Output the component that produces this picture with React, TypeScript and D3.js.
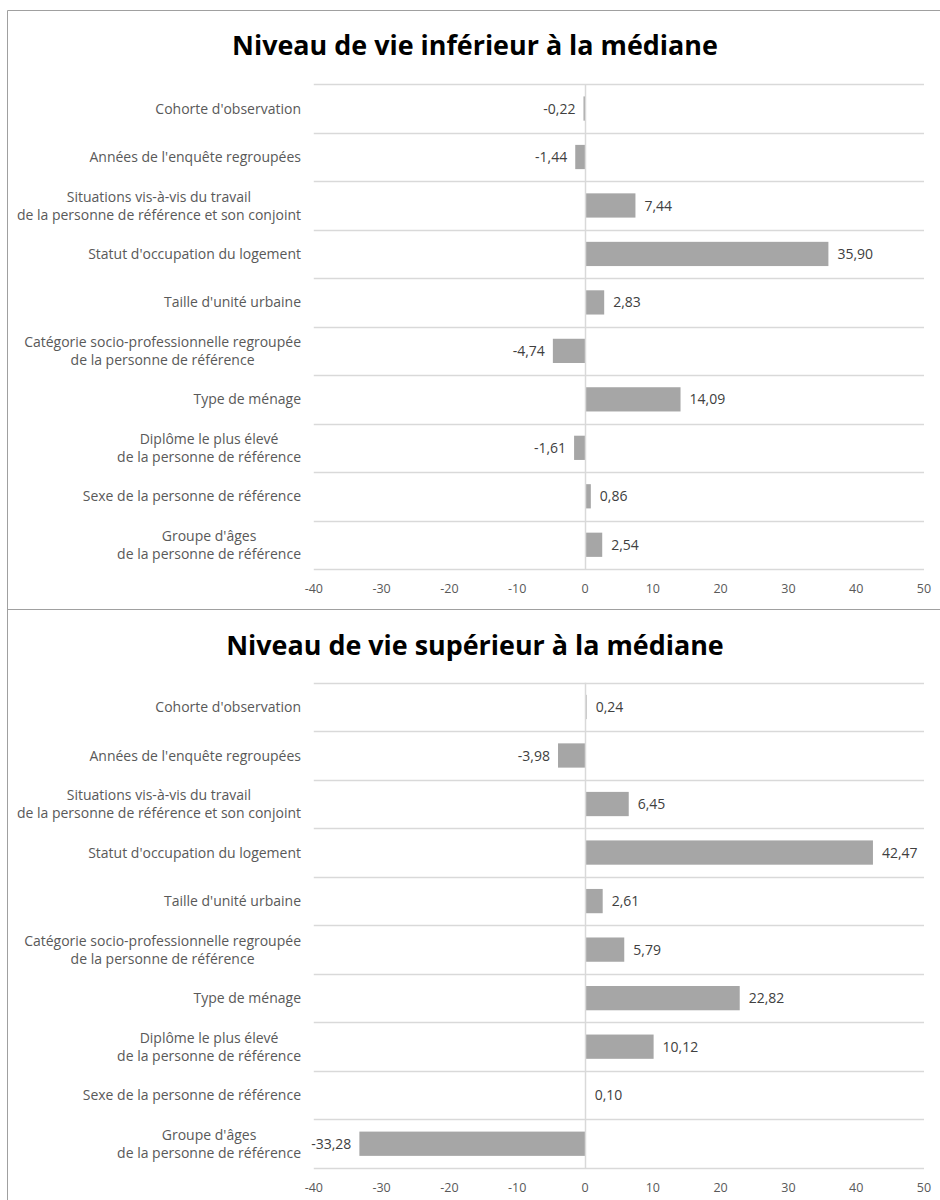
import { useEffect, useRef } from 'react'
import * as d3 from 'd3'

const CATEGORIES = [
  ["Cohorte d'observation"],
  ["Années de l'enquête regroupées"],
  ['Situations vis-à-vis du travail', 'de la personne de référence et son conjoint'],
  ["Statut d'occupation du logement"],
  ["Taille d'unité urbaine"],
  ['Catégorie socio-professionnelle regroupée', 'de la personne de référence'],
  ['Type de ménage'],
  ['Diplôme le plus élevé', 'de la personne de référence'],
  ['Sexe de la personne de référence'],
  ["Groupe d'âges", 'de la personne de référence'],
]

const BELOW_MEDIAN = [-0.22, -1.44, 7.44, 35.9, 2.83, -4.74, 14.09, -1.61, 0.86, 2.54]
const ABOVE_MEDIAN = [0.24, -3.98, 6.45, 42.47, 2.61, 5.79, 22.82, 10.12, 0.1, -33.28]

const TITLES = ['Niveau de vie inférieur à la médiane', 'Niveau de vie supérieur à la médiane']
const X_TICKS = [-40, -30, -20, -10, 0, 10, 20, 30, 40, 50]

const FONT = "'Open Sans', Lato, sans-serif"
const BAR = '#a6a6a6'
const GRID = '#d9d9d9'
const MUTED = '#595959'

const fmt = (v: number) => v.toFixed(2).replace('.', ',')

export default function App() {
  const svgRef = useRef<SVGSVGElement | null>(null)

  useEffect(() => {
    const svg = svgRef.current
    if (!svg) return
    const root = d3.select(svg)
    root.selectAll('*').remove()

    // outer frame + separator between the two panels
    root.append('path')
      .attr('d', 'M7.5,1200 V10.5 H940')
      .attr('fill', 'none')
      .attr('stroke', '#a0a0a0')
    root.append('line')
      .attr('x1', 7.5).attr('x2', 940).attr('y1', 609.5).attr('y2', 609.5)
      .attr('stroke', '#a0a0a0')

    const x = d3.scaleLinear().domain([-40, 50]).range([313.8, 924])

    const panels = [
      { title: TITLES[0], values: BELOW_MEDIAN, titleY: 55, top: 84.3, bottom: 569 },
      { title: TITLES[1], values: ABOVE_MEDIAN, titleY: 655, top: 682.7, bottom: 1168 },
    ]

    panels.forEach((p) => {
      const g = root.append('g')
      const y = d3
        .scaleBand<number>()
        .domain(d3.range(CATEGORIES.length))
        .range([p.top, p.bottom])
        .paddingInner(0.5)
        .paddingOuter(0.25)
      const step = y.step()

      g.append('text')
        .attr('x', 475)
        .attr('y', p.titleY)
        .attr('text-anchor', 'middle')
        .attr('font-family', FONT)
        .attr('font-size', 26.9)
        .attr('font-weight', 700)
        .attr('fill', '#000')
        .text(p.title)

      // category separators
      g.selectAll('line.grid')
        .data(d3.range(CATEGORIES.length + 1))
        .join('line')
        .attr('class', 'grid')
        .attr('x1', x(-40))
        .attr('x2', x(50))
        .attr('y1', (i) => Math.round(p.top + i * step) + 0.5)
        .attr('y2', (i) => Math.round(p.top + i * step) + 0.5)
        .attr('stroke', GRID)
        .attr('stroke-width', 1.5)

      g.selectAll('rect')
        .data(p.values)
        .join('rect')
        .attr('x', (d) => x(Math.min(0, d)))
        .attr('y', (_, i) => y(i)!)
        .attr('width', (d) => Math.abs(x(d) - x(0)))
        .attr('height', y.bandwidth())
        .attr('fill', BAR)

      g.append('line')
        .attr('x1', x(0) + 0.5)
        .attr('x2', x(0) + 0.5)
        .attr('y1', p.top)
        .attr('y2', p.bottom)
        .attr('stroke', GRID)
        .attr('stroke-width', 1.5)

      g.selectAll('text.val')
        .data(p.values)
        .join('text')
        .attr('class', 'val')
        .attr('x', (d) => (d < 0 ? x(d) - 8 : x(d) + 9))
        .attr('y', (_, i) => y(i)! + y.bandwidth() / 2)
        .attr('dy', '0.36em')
        .attr('text-anchor', (d) => (d < 0 ? 'end' : 'start'))
        .attr('font-family', FONT)
        .attr('font-size', 14)
        .attr('fill', '#404040')
        .text((d) => fmt(d))

      g.selectAll('text.tick')
        .data(X_TICKS)
        .join('text')
        .attr('class', 'tick')
        .attr('x', (d) => x(d))
        .attr('y', p.bottom + 19)
        .attr('dy', '0.36em')
        .attr('text-anchor', 'middle')
        .attr('font-family', FONT)
        .attr('font-size', 12.5)
        .attr('fill', MUTED)
        .text((d) => String(d))

      // category labels: lines centred on each other, block right-aligned
      CATEGORIES.forEach((lines, i) => {
        const cy = y(i)! + y.bandwidth() / 2
        const lg = g.append('g')
        const texts = lines.map((line, j) =>
          lg.append('text')
            .attr('y', cy + (j - (lines.length - 1) / 2) * 18)
            .attr('dy', '0.36em')
            .attr('text-anchor', 'middle')
            .attr('font-family', FONT)
            .attr('font-size', 14)
            .attr('fill', MUTED)
            .text(line),
        )
        const w = d3.max(texts, (t) => (t.node() as SVGTextElement).getComputedTextLength()) ?? 0
        texts.forEach((t) => t.attr('x', 301 - w / 2))
      })
    })
  }, [])

  return (
    <svg
      ref={svgRef}
      width={940}
      height={1200}
      style={{ position: 'absolute', left: 0, top: 0, background: '#fff' }}
    />
  )
}
